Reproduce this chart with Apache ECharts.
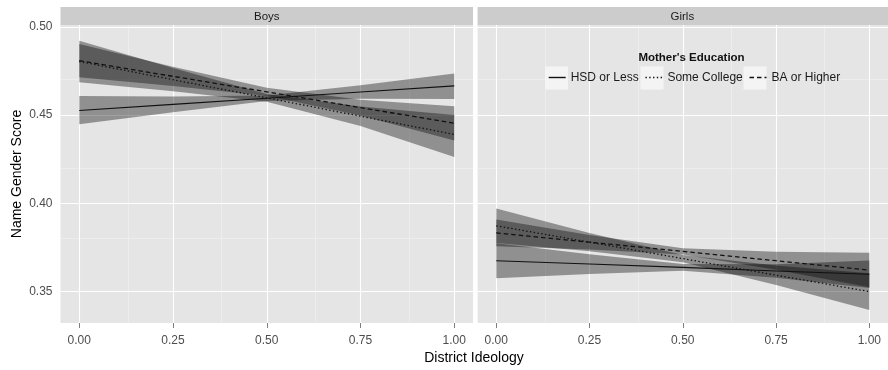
<!DOCTYPE html>
<html>
<head>
<meta charset="utf-8">
<script src="https://cdn.jsdelivr.net/npm/echarts@6/dist/echarts.min.js"></script>
<style>
html,body{margin:0;padding:0;background:#fff;}
#chart{width:888px;height:370px;}
</style>
</head>
<body>
<div id="chart"></div>
<script>
// ---------- data ----------
var panels = ['Boys', 'Girls'];
var educationLevels = ['HSD or Less', 'Some College', 'BA or Higher'];
var ideology = [0, 0.25, 0.5, 0.75, 1];

// Boys
var boysHSD   = [0.4525, 0.4560, 0.4595, 0.4630, 0.4665];
var boysHSDlo = [0.4447, 0.4515, 0.4579, 0.4592, 0.4590];
var boysHSDhi = [0.4607, 0.4605, 0.4611, 0.4668, 0.4735];
var boysSC    = [0.4803, 0.4700, 0.4597, 0.4493, 0.4390];
var boysSClo  = [0.4685, 0.4634, 0.4575, 0.4438, 0.4262];
var boysSChi  = [0.4921, 0.4766, 0.4619, 0.4548, 0.4500];
var boysBA    = [0.4808, 0.4719, 0.4631, 0.4542, 0.4453];
var boysBAlo  = [0.4714, 0.4664, 0.4608, 0.4497, 0.4356];
var boysBAhi  = [0.4902, 0.4774, 0.4654, 0.4587, 0.4550];

// Girls
var girlsHSD   = [0.3674, 0.3655, 0.3636, 0.3616, 0.3597];
var girlsHSDlo = [0.3575, 0.3599, 0.3617, 0.3578, 0.3519];
var girlsHSDhi = [0.3773, 0.3711, 0.3655, 0.3654, 0.3675];
var girlsSC    = [0.3872, 0.3779, 0.3686, 0.3592, 0.3499];
var girlsSClo  = [0.3774, 0.3727, 0.3666, 0.3537, 0.3395];
var girlsSChi  = [0.3970, 0.3831, 0.3706, 0.3647, 0.3603];
var girlsBA    = [0.3832, 0.3779, 0.3727, 0.3674, 0.3621];
var girlsBAlo  = [0.3756, 0.3738, 0.3709, 0.3623, 0.3523];
var girlsBAhi  = [0.3908, 0.3820, 0.3745, 0.3725, 0.3719];

// ticks / gridlines
var xTicks = [0, 0.25, 0.5, 0.75, 1];
var xMinor = [0.125, 0.375, 0.625, 0.875];
var yTicks = [0.35, 0.40, 0.45, 0.50];
var yMinor = [0.375, 0.425, 0.475];

var xTitle = 'District Ideology';
var yTitle = 'Name Gender Score';
var legendTitle = "Mother's Education";

// ---------- layout ----------
var FONT = '"Liberation Sans", Arial, Helvetica, sans-serif';
var X_MIN = -0.05, X_MAX = 1.05, Y_MIN = 0.3321, Y_MAX = 0.5010;
var gridTop = 25, gridH = 298, gridW = 412.5;
var gridLefts = [60.5, 477.6];
var lineTypes = ['solid', [1.4, 2.4], [4.5, 3]];
var ribbonFill = 'rgba(0,0,0,0.37)';

var chart = echarts.init(document.getElementById('chart'), null, {renderer: 'canvas'});

var grids = [], xAxes = [], yAxes = [], series = [];

gridLefts.forEach(function (left, gi) {
  grids.push({left: left, top: gridTop, width: gridW, height: gridH,
    show: true, backgroundColor: '#E5E5E5', borderWidth: 0, containLabel: false});
  xAxes.push({
    type: 'value', gridIndex: gi, min: X_MIN, max: X_MAX,
    axisLine: {show: false},
    axisTick: {show: true, length: 5, customValues: xTicks, lineStyle: {color: '#7F7F7F', width: 1}},
    axisLabel: {show: true, customValues: xTicks, margin: 12, color: '#4D4D4D', fontSize: 12, fontFamily: FONT,
      formatter: function (v) { return v.toFixed(2); }},
    splitLine: {show: false}
  });
  yAxes.push({
    type: 'value', gridIndex: gi, min: Y_MIN, max: Y_MAX,
    axisLine: {show: false},
    axisTick: {show: gi === 0, length: 5, customValues: yTicks, lineStyle: {color: '#7F7F7F', width: 1}},
    axisLabel: {show: gi === 0, customValues: yTicks, margin: 8, color: '#4D4D4D', fontSize: 12, fontFamily: FONT,
      formatter: function (v) { return v.toFixed(2); }},
    splitLine: {show: false}
  });

  // gridlines via markLine
  var ml = [];
  xMinor.forEach(function (v) { ml.push({xAxis: v, lineStyle: {color: '#F2F2F2', width: 0.6, type: 'solid'}}); });
  yMinor.forEach(function (v) { ml.push({yAxis: v, lineStyle: {color: '#F2F2F2', width: 0.6, type: 'solid'}}); });
  xTicks.forEach(function (v) { ml.push({xAxis: v, lineStyle: {color: '#FFFFFF', width: 1.1, type: 'solid'}}); });
  yTicks.forEach(function (v) { ml.push({yAxis: v, lineStyle: {color: '#FFFFFF', width: 1.1, type: 'solid'}}); });
  series.push({
    type: 'line', xAxisIndex: gi, yAxisIndex: gi, data: [], silent: true, z: 1,
    markLine: {silent: true, symbol: ['none', 'none'], label: {show: false}, animation: false, data: ml}
  });
});

function ribbon(gi, lo, hi) {
  return {
    type: 'custom', xAxisIndex: gi, yAxisIndex: gi, silent: true, z: 10,
    data: ideology.map(function (x, i) { return [x, lo[i], hi[i]]; }),
    encode: {x: 0, y: [1, 2]},
    renderItem: function (params, api) {
      if (params.dataIndex !== 0) return null;
      var pts = [];
      for (var i = 0; i < ideology.length; i++) pts.push(api.coord([ideology[i], hi[i]]));
      for (var j = ideology.length - 1; j >= 0; j--) pts.push(api.coord([ideology[j], lo[j]]));
      return {type: 'polygon', shape: {points: pts}, style: {fill: ribbonFill, stroke: null}};
    }
  };
}
function fitLine(gi, name, ys, k) {
  return {
    type: 'line', name: name, xAxisIndex: gi, yAxisIndex: gi, z: 12,
    symbol: 'none', showSymbol: false, silent: true,
    data: ideology.map(function (x, i) { return [x, ys[i]]; }),
    lineStyle: {color: '#111111', width: k === 0 ? 1.1 : 1.3, type: lineTypes[k]},
    itemStyle: {color: '#111111'}
  };
}

var panelData = [
  [[boysHSD, boysHSDlo, boysHSDhi], [boysSC, boysSClo, boysSChi], [boysBA, boysBAlo, boysBAhi]],
  [[girlsHSD, girlsHSDlo, girlsHSDhi], [girlsSC, girlsSClo, girlsSChi], [girlsBA, girlsBAlo, girlsBAhi]]
];
panelData.forEach(function (pd, gi) {
  pd.forEach(function (d) { series.push(ribbon(gi, d[1], d[2])); });
});
panelData.forEach(function (pd, gi) {
  pd.forEach(function (d, k) { series.push(fitLine(gi, educationLevels[k], d[0], k)); });
});

// strips, titles, legend key boxes
var graphics = [];
var stripY = 7, stripH = 18;
gridLefts.forEach(function (left, gi) {
  graphics.push({type: 'rect', left: left, top: stripY, shape: {width: gridW, height: stripH},
    style: {fill: '#CCCCCC'}, z: 1, silent: true});
  graphics.push({type: 'text', x: left + gridW / 2 + (gi === 1 ? -1.5 : 0), y: stripY + stripH / 2 + 0.5,
    style: {text: panels[gi], fill: '#1A1A1A', font: '11.5px ' + FONT, textAlign: 'center', textVerticalAlign: 'middle'},
    z: 2, silent: true});
});
[545, 640.5, 743.5].forEach(function (bx) {
  graphics.push({type: 'rect', left: bx, top: 66.5, shape: {width: 23, height: 23},
    style: {fill: '#F4F4F4'}, z: 15, silent: true});
});
graphics.push({type: 'text', x: 691.5, y: 58,
  style: {text: legendTitle, fill: '#111111', font: 'bold 11.5px ' + FONT, textAlign: 'center', textVerticalAlign: 'middle'},
  z: 20, silent: true});
graphics.push({type: 'text', x: 474, y: 358.5,
  style: {text: xTitle, fill: '#000000', font: '14px ' + FONT, textAlign: 'center', textVerticalAlign: 'middle'},
  z: 20, silent: true});
graphics.push({type: 'text', x: 17, y: 174, rotation: Math.PI / 2,
  style: {text: yTitle, fill: '#000000', font: '14px ' + FONT, textAlign: 'center', textVerticalAlign: 'middle'},
  z: 20, silent: true});

var option = {
  animation: false,
  backgroundColor: '#FFFFFF',
  textStyle: {fontFamily: FONT},
  grid: grids,
  xAxis: xAxes,
  yAxis: yAxes,
  legend: {
    data: educationLevels, left: 548, top: 71.5, padding: 0, z: 30,
    itemWidth: 17, itemHeight: 14, itemGap: 6, selectedMode: false,
    itemStyle: {opacity: 0},
    lineStyle: {width: 1.4, color: '#111111'},
    textStyle: {fontSize: 12, color: '#1A1A1A', fontFamily: FONT, padding: [0, 0, 0, 0]}
  },
  graphic: graphics,
  series: series
};
chart.setOption(option);
</script>
</body>
</html>
